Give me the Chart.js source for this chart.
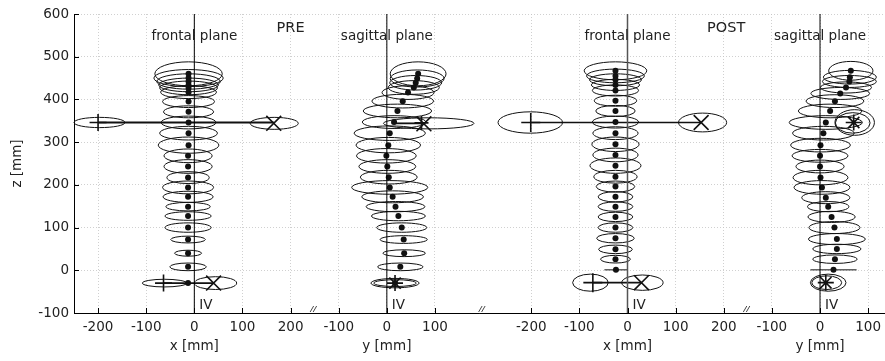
<!DOCTYPE html>
<html><head><meta charset="utf-8">
<script src="https://cdn.jsdelivr.net/npm/chart.js@4.4.1/dist/chart.umd.min.js"></script>
<style>html,body{margin:0;padding:0;background:#fff}#wrap{width:885px;height:361px}</style>
</head><body><div id="wrap"><canvas id="c" width="885" height="361"></canvas></div>
<script>
// ---- axis layout data ----
const panelOffsets = [0, 400, 900, 1300];
const panelTitles = ['frontal plane', 'sagittal plane', 'frontal plane', 'sagittal plane'];
const panelAxisTitles = ['x [mm]', 'y [mm]', 'x [mm]', 'y [mm]'];
const conditionLabels = ['PRE', 'POST'];
const conditionLabelX = [200, 1105];
const breakPositions = [250, 600, 1150];
const xTickPositions = [-200, -100, 0, 100, 200, 300, 400, 500, 700, 800, 900, 1000, 1100, 1200, 1300, 1400];
const xTickLabels = ['-200', '-100', '0', '100', '200', '-100', '0', '100', '-200', '-100', '0', '100', '200', '-100', '0', '100'];
const zTickValues = [-100, 0, 100, 200, 300, 400, 500, 600];

// ---- PRE frontal ----
const preFrontalZ  = [460, 450, 442, 434, 427, 417, 395, 371, 346, 321, 293, 268, 243, 217, 194, 172, 149, 127, 100, 72, 40, 8, -30];
const preFrontalX  = [-12, -12, -12, -12, -12, -12, -12, -12, -12, -12, -12, -13, -13, -13, -13, -13, -13, -13, -13, -13, -13, -13, -13];
const preFrontalRx = [70, 72, 66, 62, 60, 58, 54, 52, 57, 60, 63, 50, 50, 44, 53, 52, 46, 48, 48, 36, 28, 38, 0];
const preFrontalRz = [28, 20, 18, 16, 16, 15, 14, 14, 15, 16, 19, 16, 16, 14, 15, 13, 10, 10, 11, 8, 7, 9, 0];
const preFrontalLimbX  = [-197, 166, -62, 44];
const preFrontalLimbZ  = [346, 344, -30, -30];
const preFrontalLimbRx = [53, 50, 46, 44];
const preFrontalLimbRz = [12, 14, 9, 15];
const preFrontalPlusX = [-200, -64], preFrontalPlusZ = [346, -30];
const preFrontalCrossX = [165, 40], preFrontalCrossZ = [344, -30];
const preFrontalShoulderX = [-200, 165], preFrontalShoulderZ = [346, 346];
const preFrontalHipX = [-64, 40], preFrontalHipZ = [-30, -30];

// ---- PRE sagittal ----
const preSagZ  = [460, 449, 439, 428, 416, 396, 373, 347, 321, 293, 268, 243, 218, 194, 172, 149, 127, 100, 72, 40, 8, -30];
const preSagY  = [65, 63, 60, 56, 44, 33, 22, 15, 6, 3, -1, 1, 4, 6, 12, 18, 24, 31, 35, 36, 28, 17];
const preSagRy = [58, 56, 54, 53, 54, 64, 71, 66, 74, 67, 62, 59, 59, 79, 64, 61, 56, 52, 49, 44, 47, 50];
const preSagRz = [28, 20, 17, 16, 16, 16, 16, 15, 17, 18, 17, 16, 16, 16, 14, 12, 11, 11, 9, 8, 9, 11];
const preSagLimbY  = [87, 17];
const preSagLimbZ  = [344, -30];
const preSagLimbRy = [94, 44];
const preSagLimbRz = [13, 8];
const preSagCrossY = [77], preSagCrossZ = [343];
const preSagPlusY = [72], preSagPlusZ = [345];
const preSagStarY = [17], preSagStarZ = [-30];
const preSagShoulderY = [10, 75], preSagShoulderZ = [344, 344];

// ---- POST frontal ----
const postFrontalZ  = [467, 455, 446, 434, 421, 397, 373, 347, 321, 295, 270, 245, 219, 196, 172, 149, 125, 100, 75, 49, 26, 1];
const postFrontalX  = [-25, -25, -25, -25, -25, -25, -25, -25, -25, -25, -25, -25, -25, -25, -25, -25, -25, -25, -25, -25, -25, -24];
const postFrontalRx = [65, 60, 54, 50, 48, 44, 41, 48, 47, 49, 47, 53, 45, 40, 36, 36, 36, 36, 39, 35, 31, 24];
const postFrontalRz = [21, 16, 14, 13, 13, 13, 13, 14, 15, 17, 16, 18, 15, 13, 12, 11, 11, 11, 11, 10, 9, 0];
const postFrontalLimbX  = [-202, 156, -77, 31];
const postFrontalLimbZ  = [346, 346, -29, -29];
const postFrontalLimbRx = [67, 50, 37, 43];
const postFrontalLimbRz = [25, 22, 20, 18];
const postFrontalPlusX = [-201, -72], postFrontalPlusZ = [346, -29];
const postFrontalCrossX = [153, 29], postFrontalCrossZ = [346, -29];
const postFrontalShoulderX = [-201, 153], postFrontalShoulderZ = [346, 346];
const postFrontalHipX = [-72, 29], postFrontalHipZ = [-29, -29];

// ---- POST sagittal ----
const postSagZ  = [467, 452, 442, 428, 414, 396, 373, 346, 321, 293, 268, 243, 217, 194, 170, 149, 125, 100, 73, 50, 26, 1];
const postSagY  = [64, 62, 61, 54, 42, 31, 21, 12, 7, 1, 0, 0, 1, 4, 12, 17, 24, 30, 35, 35, 31, 28];
const postSagRy = [46, 55, 56, 53, 61, 60, 66, 76, 64, 62, 58, 50, 57, 58, 50, 43, 49, 53, 59, 50, 46, 48];
const postSagRz = [22, 16, 14, 13, 14, 15, 16, 16, 16, 16, 15, 15, 17, 16, 14, 12, 13, 14, 13, 11, 10, 0];
const postSagLimbY  = [72, 68, 17, 14];
const postSagLimbZ  = [346, 345, -29, -29];
const postSagLimbRy = [41, 36, 37, 31];
const postSagLimbRz = [30, 24, 20, 16];
const postSagStarY = [70, 12], postSagStarZ = [346, -29];

// ---- build ----
const ellipseSets = [
  {off: panelOffsets[0], x: preFrontalX, z: preFrontalZ, rx: preFrontalRx, rz: preFrontalRz},
  {off: panelOffsets[0], x: preFrontalLimbX, z: preFrontalLimbZ, rx: preFrontalLimbRx, rz: preFrontalLimbRz},
  {off: panelOffsets[1], x: preSagY, z: preSagZ, rx: preSagRy, rz: preSagRz},
  {off: panelOffsets[1], x: preSagLimbY, z: preSagLimbZ, rx: preSagLimbRy, rz: preSagLimbRz},
  {off: panelOffsets[2], x: postFrontalX, z: postFrontalZ, rx: postFrontalRx, rz: postFrontalRz},
  {off: panelOffsets[2], x: postFrontalLimbX, z: postFrontalLimbZ, rx: postFrontalLimbRx, rz: postFrontalLimbRz},
  {off: panelOffsets[3], x: postSagY, z: postSagZ, rx: postSagRy, rz: postSagRz},
  {off: panelOffsets[3], x: postSagLimbY, z: postSagLimbZ, rx: postSagLimbRy, rz: postSagLimbRz}
];

const pts = (xs, zs, off) => xs.map((v, i) => ({x: v + off, y: zs[i]}));
const INK = '#111';
const dots = (xs, zs, off) => ({type: 'scatter', data: pts(xs, zs, off), pointRadius: 3, pointBackgroundColor: INK, pointBorderWidth: 0, showLine: false});
const marker = (xs, zs, off, style, r) => ({type: 'scatter', data: pts(xs, zs, off), pointStyle: style, pointRadius: r, pointBorderColor: INK, pointBorderWidth: 1.6, pointBackgroundColor: 'rgba(0,0,0,0)', showLine: false});
const bar = (xs, zs, off, w) => ({type: 'line', data: pts(xs, zs, off), borderColor: INK, borderWidth: w, pointRadius: 0, fill: false});
const zeroLine = (off, c, w) => ({type: 'line', data: [{x: off, y: zTickValues[0]}, {x: off, y: zTickValues[zTickValues.length - 1]}], borderColor: c, borderWidth: w, pointRadius: 0, fill: false});

const datasets = [
  zeroLine(panelOffsets[0], '#000', 1), zeroLine(panelOffsets[1], '#000', 1),
  zeroLine(panelOffsets[2], '#555', 1.5), zeroLine(panelOffsets[3], '#000', 1),
  bar(preFrontalShoulderX, preFrontalShoulderZ, panelOffsets[0], 1.8),
  bar(preFrontalHipX, preFrontalHipZ, panelOffsets[0], 1.6),
  bar(preSagShoulderY, preSagShoulderZ, panelOffsets[1], 1.8),
  bar(postFrontalShoulderX, postFrontalShoulderZ, panelOffsets[2], 1.6),
  bar(postFrontalHipX, postFrontalHipZ, panelOffsets[2], 1.6),
  dots(preFrontalX, preFrontalZ, panelOffsets[0]),
  dots(preSagY, preSagZ, panelOffsets[1]),
  dots(postFrontalX, postFrontalZ, panelOffsets[2]),
  dots(postSagY, postSagZ, panelOffsets[3]),
  marker(preFrontalPlusX, preFrontalPlusZ, panelOffsets[0], 'cross', 8.5),
  marker(preFrontalCrossX, preFrontalCrossZ, panelOffsets[0], 'crossRot', 10.5),
  marker(preSagCrossY, preSagCrossZ, panelOffsets[1], 'crossRot', 10.5),
  marker(preSagPlusY, preSagPlusZ, panelOffsets[1], 'cross', 7),
  marker(preSagStarY, preSagStarZ, panelOffsets[1], 'star', 8),
  marker(postFrontalPlusX, postFrontalPlusZ, panelOffsets[2], 'cross', 9.5),
  marker(postFrontalCrossX, postFrontalCrossZ, panelOffsets[2], 'crossRot', 10.5),
  marker(postSagStarY, postSagStarZ, panelOffsets[3], 'star', 8)
];

const FONT = 'DejaVu Sans';
const TXT = '#222';

const ellipsePlugin = {
  id: 'ellipses',
  beforeDatasetsDraw(chart) {
    const {ctx} = chart; const xs = chart.scales.x, ys = chart.scales.y;
    ctx.save(); ctx.strokeStyle = '#111'; ctx.lineWidth = 1;
    ellipseSets.forEach(set => {
      set.x.forEach((xv, i) => {
        const rx = set.rx[i], rz = set.rz[i];
        if (!rx) return;
        const cx = xs.getPixelForValue(xv + set.off), cy = ys.getPixelForValue(set.z[i]);
        const prx = Math.abs(xs.getPixelForValue(xv + set.off + rx) - cx);
        const pry = Math.abs(ys.getPixelForValue(set.z[i] + rz) - cy);
        ctx.beginPath();
        if (pry < 0.5) { ctx.moveTo(cx - prx, cy); ctx.lineTo(cx + prx, cy); }
        else ctx.ellipse(cx, cy, prx, pry, 0, 0, Math.PI * 2);
        ctx.stroke();
      });
    });
    ctx.restore();
  }
};

const decorPlugin = {
  id: 'decor',
  afterDraw(chart) {
    const {ctx, chartArea: a} = chart; const xs = chart.scales.x, ys = chart.scales.y;
    ctx.save();
    // inward ticks
    ctx.strokeStyle = '#000'; ctx.lineWidth = 1;
    xTickPositions.forEach(v => { const p = Math.round(xs.getPixelForValue(v)) + 0.5; ctx.beginPath(); ctx.moveTo(p, a.bottom); ctx.lineTo(p, a.bottom - 5); ctx.stroke(); });
    zTickValues.forEach(v => { const p = Math.round(ys.getPixelForValue(v)) + 0.5; ctx.beginPath(); ctx.moveTo(a.left, p); ctx.lineTo(a.left + 5, p); ctx.stroke(); });
    // axis breaks
    ctx.strokeStyle = '#333'; ctx.lineWidth = 0.9;
    breakPositions.forEach(u => {
      const p = xs.getPixelForValue(u);
      [-2.5, 0.5].forEach(d => { ctx.beginPath(); ctx.moveTo(p + d - 2, a.bottom - 1); ctx.lineTo(p + d + 1.5, a.bottom - 7); ctx.stroke(); });
    });
    // texts
    ctx.fillStyle = TXT; ctx.textBaseline = 'alphabetic';
    ctx.font = '13.5px "' + FONT + '"'; ctx.textAlign = 'center';
    panelOffsets.forEach((off, i) => {
      const p = xs.getPixelForValue(off);
      ctx.fillText(panelTitles[i], p, a.top + 25.5);
      ctx.fillText(panelAxisTitles[i], p, a.bottom + 37);
    });
    ctx.font = '14.5px "' + FONT + '"';
    conditionLabels.forEach((t, i) => ctx.fillText(t, xs.getPixelForValue(conditionLabelX[i]), a.top + 18));
    ctx.font = '13.5px "' + FONT + '"';
    ctx.textAlign = 'left';
    panelOffsets.forEach(off => ctx.fillText('IV', xs.getPixelForValue(off) + 5, a.bottom - 4.5));
    ctx.restore();
  }
};

new Chart(document.getElementById('c'), {
  type: 'scatter',
  data: {datasets},
  options: {
    responsive: false, animation: false, devicePixelRatio: 1,
    layout: {autoPadding: false, padding: {top: 14, right: 0, left: 0, bottom: 0}},
    plugins: {legend: {display: false}, tooltip: {enabled: false}},
    scales: {
      x: {
        type: 'linear', min: -250, max: 1435,
        afterBuildTicks: s => { s.ticks = xTickPositions.map(v => ({value: v})); },
        afterFit: s => { s.height = 48; s.paddingLeft = 0; s.paddingRight = 0; },
        ticks: {callback: v => xTickLabels[xTickPositions.indexOf(v)], font: {family: FONT, size: 13.5}, color: TXT, padding: 6, maxRotation: 0, autoSkip: false},
        grid: {color: '#c4c4c4', lineWidth: 0.8, drawTicks: false},
        border: {display: true, color: '#000', width: 1, dash: [1, 2]}
      },
      y: {
        type: 'linear', min: -100, max: 600,
        afterBuildTicks: s => { s.ticks = zTickValues.map(v => ({value: v})); },
        afterFit: s => { s.width = 74; s.paddingTop = 0; s.paddingBottom = 0; },
        ticks: {font: {family: FONT, size: 13.5}, color: TXT, padding: 5},
        grid: {color: '#c4c4c4', lineWidth: 0.8, drawTicks: false},
        border: {display: true, color: '#000', width: 1, dash: [1, 2]},
        title: {display: true, text: 'z [mm]', font: {family: FONT, size: 13.5}, color: TXT, padding: {top: 9, bottom: 0}}
      }
    }
  },
  plugins: [ellipsePlugin, decorPlugin]
});
</script></body></html>
